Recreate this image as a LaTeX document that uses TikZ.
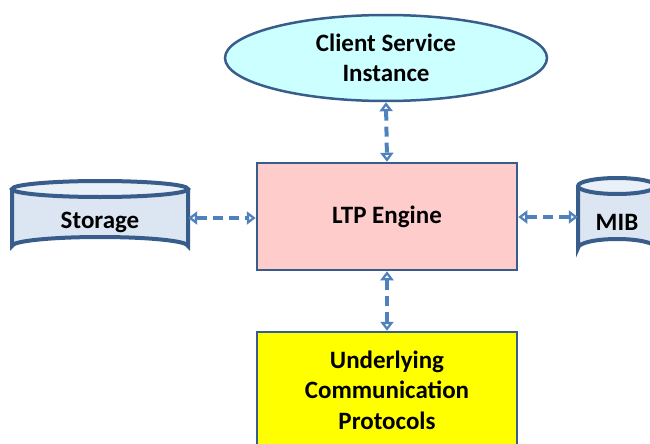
\documentclass[tikz,border=0pt]{standalone}
\usepackage{fontspec}
\setmainfont{Carlito}
\usetikzlibrary{shapes.geometric,arrows.meta}
\definecolor{bordc}{HTML}{385D8A}
\definecolor{arrc}{HTML}{4F81BD}
\definecolor{cylfill}{HTML}{DCE6F2}
\definecolor{ellfill}{HTML}{CCFFFF}
\definecolor{ltpfill}{HTML}{FFCCCC}
\definecolor{ucpfill}{HTML}{FFFF00}
\tikzset{
  lbl/.style={font=\fontsize{25}{30.5}\selectfont\bfseries, align=center, text=black},
  boxnode/.style={lbl, draw=bordc, line width=2.5pt, inner sep=0pt},
  cylbody/.style={fill=cylfill, draw=bordc, line width=4pt},
  link/.style={draw=arrc, line width=4pt, dash pattern=on 10pt off 6pt,
    {Triangle[open,length=9pt,width=13pt,line width=2.5pt]}-{Triangle[open,length=9pt,width=13pt,line width=2.5pt]}}
}
\begin{document}
\begin{tikzpicture}[x=1pt,y=-1pt]
\useasboundingbox (0,0) rectangle (650,444);
\clip (0,0) rectangle (650,444);
% nodes
\node[boxnode, ellipse, fill=ellfill, minimum width=322pt, minimum height=86pt] (csi) at (386,58) {Client Service\\Instance};
\node[boxnode, rectangle, fill=ltpfill, minimum width=260pt, minimum height=107pt] (ltp) at (387,216.5) {LTP Engine};
\node[boxnode, rectangle, fill=ucpfill, minimum width=260pt, minimum height=116pt] (ucp) at (387,390) {Underlying\\Communication\\Protocols};
% Storage cylinder
\node[minimum width=176pt, minimum height=74pt, inner sep=0pt] (sto) at (100,218) {};
\fill[cylfill] (12,189) -- (12,246) arc[start angle=180,end angle=360,x radius=88,y radius=9] -- (188,189) arc[start angle=0,end angle=180,x radius=88,y radius=9] -- cycle;
\draw[bordc, line width=4pt] (12,189) -- (12,246) arc[start angle=180,end angle=360,x radius=88,y radius=9] -- (188,189);
\draw[bordc, line width=4pt, fill=cylfill!60!white] (100,189) ellipse[x radius=88, y radius=8];
\node[lbl] at (100,222) {Storage};
% MIB cylinder
\node[minimum width=78pt, minimum height=78pt, inner sep=0pt] (mib) at (617,217) {};
\fill[cylfill] (578,186) -- (578,248) arc[start angle=180,end angle=360,x radius=39,y radius=9] -- (656,186) arc[start angle=0,end angle=180,x radius=39,y radius=8] -- cycle;
\draw[bordc, line width=4pt] (578,186) -- (578,248) arc[start angle=180,end angle=360,x radius=39,y radius=9] -- (656,186);
\draw[bordc, line width=4pt, fill=cylfill!60!white] (617,186) ellipse[x radius=39, y radius=8];
\node[lbl] at (617,222) {MIB};
% connectors
\draw[link] (csi.south) -- (ltp.north);
\draw[link] (ltp.south) -- (ucp.north);
\draw[link] (sto.east) -- (ltp.west |- sto.east);
\draw[link] (mib.west) -- (ltp.east |- mib.west);
\end{tikzpicture}
\end{document}
